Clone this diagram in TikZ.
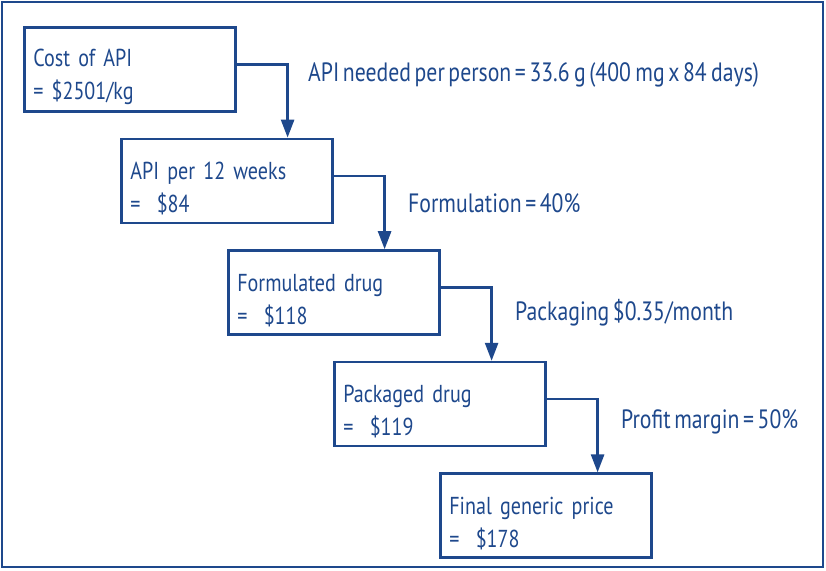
\documentclass[tikz,border=0pt]{standalone}
\usepackage{fontspec}
\setmainfont{PT Sans}[FakeStretch=0.82,WordSpace=0.62]
\usetikzlibrary{positioning,arrows.meta}
\definecolor{DrugBlue}{RGB}{30,72,140}
\tikzset{
  flow/.style={-{Triangle[length=18pt,width=13pt]},line width=2.6pt,draw=DrugBlue},
  costbox/.style={draw=DrugBlue,line width=2.6pt,minimum width=211pt,
    minimum height=84pt,text width=193pt,inner xsep=9pt,align=left,
    font=\fontsize{24.5}{33}\selectfont,text=DrugBlue,
    execute at begin node={\rule{0pt}{33pt}}},
  steplabel/.style={anchor=west,inner sep=0pt,
    font=\fontsize{26.5}{30}\selectfont,text=DrugBlue}
}

\begin{document}
\begin{tikzpicture}[x=1pt,y=-1pt]
  \useasboundingbox (0,0) rectangle (826,570);
  \draw[DrugBlue,line width=2pt] (2,2) rectangle (823,567);
  \node[costbox,anchor=north west] (api) at (23,26) {Cost of API\\= \$2501/kg};
  \node[costbox,below right=25pt and 97pt of api.south west] (weeks) {API per 12 weeks\\=\ \ \$84};
  \node[costbox,below right=25pt and 107pt of weeks.south west] (formulated) {Formulated drug\\=\ \ \$118};
  \node[costbox,below right=25pt and 106pt of formulated.south west] (packaged) {Packaged drug\\=\ \ \$119};
  \node[costbox,below right=25pt and 106pt of packaged.south west] (final) {Final generic price\\=\ \ \$178};
  \draw[flow] ([yshift=5pt]api.east) -| ([xshift=51pt]api.east |- weeks.north);
  \draw[flow] ([yshift=5pt]weeks.east) -| ([xshift=51pt]weeks.east |- formulated.north);
  \draw[flow] ([yshift=5pt]formulated.east) -| ([xshift=51pt]formulated.east |- packaged.north);
  \draw[flow] ([yshift=5pt]packaged.east) -| ([xshift=51pt]packaged.east |- final.north);
  \node[steplabel] (need) at (308,75) {API needed per person = 33.6\,g (400\,mg x 84\,days)};
  \node[steplabel] (formulation) at (408,203) {Formulation = 40\%};
  \node[steplabel] (packaging) at (515,313) {Packaging \$0.35/month};
  \node[steplabel] (margin) at (621,422) {Profit margin = 50\%};
\end{tikzpicture}
\end{document}
